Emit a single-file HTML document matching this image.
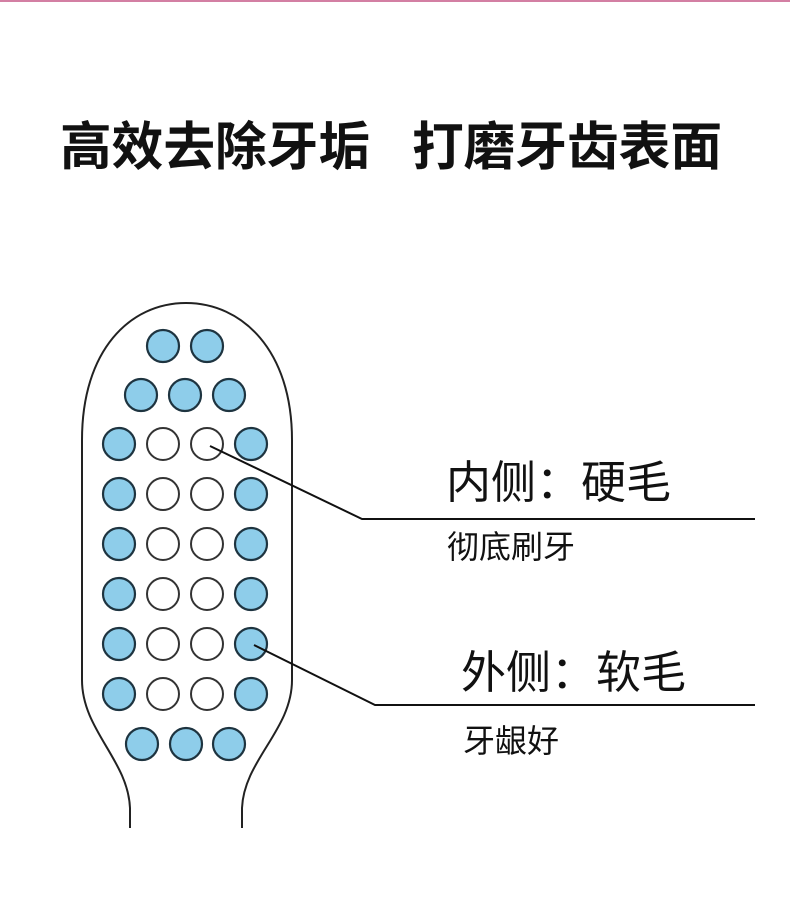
<!DOCTYPE html>
<html><head><meta charset="utf-8"><style>
html,body{margin:0;padding:0;background:#fff;}
svg{display:block}
text{font-family:"Liberation Sans","Noto Sans CJK SC",sans-serif;fill:#111}
</style></head><body>
<svg width="790" height="914" viewBox="0 0 790 914" xmlns="http://www.w3.org/2000/svg">
<rect x="0" y="0" width="790" height="2" fill="#d37fa3"/>
<text x="60" y="165" font-size="52" font-weight="bold" textLength="310" lengthAdjust="spacingAndGlyphs">高效去除牙垢</text>
<text x="412" y="165" font-size="52" font-weight="bold" textLength="310" lengthAdjust="spacingAndGlyphs">打磨牙齿表面</text>
<path d="M130,828 L130,808 C128,760 82,730 82,680 L82,440 C82,350 130,303 186,303 C242,303 292,350 292,440 L292,680 C292,730 244,760 242,808 L242,828" fill="none" stroke="#222" stroke-width="2"/>
<g stroke="#1e3440" stroke-width="2.2">
<g fill="#8ecdea">
<circle cx="163" cy="346" r="16"/><circle cx="207" cy="346" r="16"/>
<circle cx="141" cy="395" r="16"/><circle cx="185" cy="395" r="16"/><circle cx="229" cy="395" r="16"/>
<circle cx="119" cy="444" r="16"/><circle cx="251" cy="444" r="16"/>
<circle cx="119" cy="494" r="16"/><circle cx="251" cy="494" r="16"/>
<circle cx="119" cy="544" r="16"/><circle cx="251" cy="544" r="16"/>
<circle cx="119" cy="594" r="16"/><circle cx="251" cy="594" r="16"/>
<circle cx="119" cy="644" r="16"/><circle cx="251" cy="644" r="16"/>
<circle cx="119" cy="694" r="16"/><circle cx="251" cy="694" r="16"/>
<circle cx="142" cy="744" r="16"/><circle cx="186" cy="744" r="16"/><circle cx="229" cy="744" r="16"/>
</g>
<g fill="#fff" stroke="#333" stroke-width="2">
<circle cx="163" cy="444" r="16"/><circle cx="207" cy="444" r="16"/>
<circle cx="163" cy="494" r="16"/><circle cx="207" cy="494" r="16"/>
<circle cx="163" cy="544" r="16"/><circle cx="207" cy="544" r="16"/>
<circle cx="163" cy="594" r="16"/><circle cx="207" cy="594" r="16"/>
<circle cx="163" cy="644" r="16"/><circle cx="207" cy="644" r="16"/>
<circle cx="163" cy="694" r="16"/><circle cx="207" cy="694" r="16"/>
</g>
</g>
<polyline points="210,446 362,519 755,519" fill="none" stroke="#111" stroke-width="2"/>
<polyline points="254,645 375,705 755,705" fill="none" stroke="#111" stroke-width="2"/>
<text x="446" y="498" font-size="45">内侧：硬毛</text>
<text x="447" y="558" font-size="32">彻底刷牙</text>
<text x="461" y="688" font-size="45">外侧：软毛</text>
<text x="463" y="752" font-size="32">牙龈好</text>
</svg>
</body></html>
